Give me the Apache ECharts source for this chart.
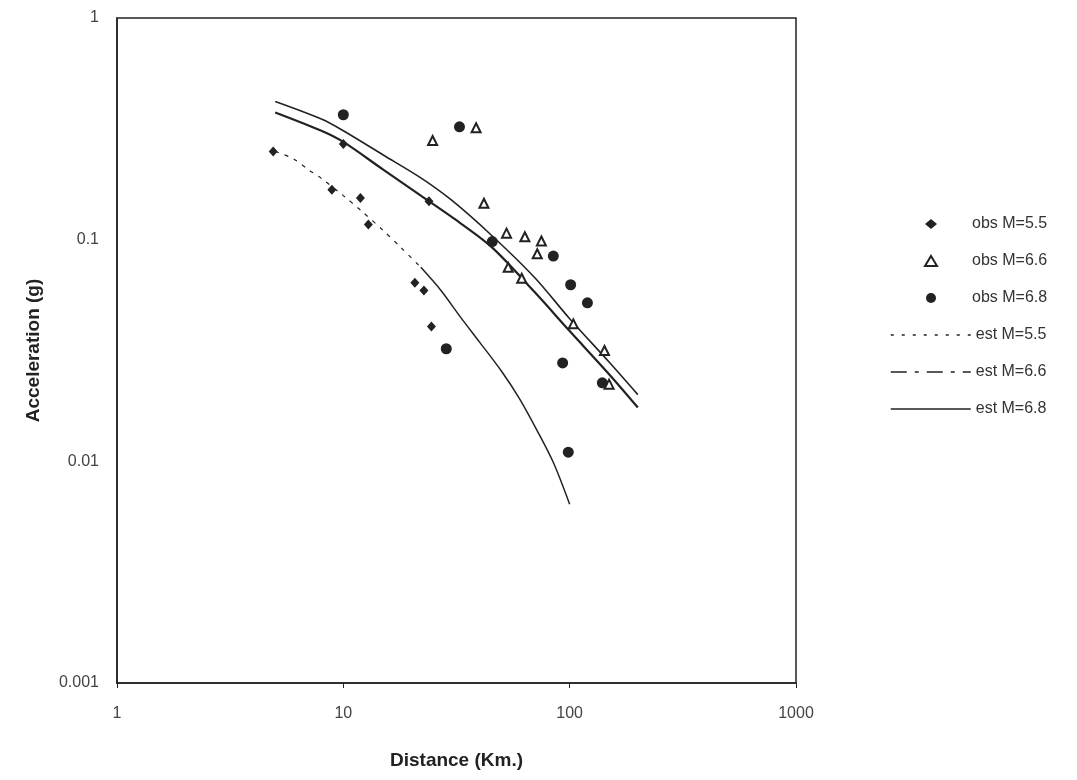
<!DOCTYPE html>
<html>
<head>
<meta charset="utf-8">
<script src="https://cdn.jsdelivr.net/npm/echarts@6/dist/echarts.min.js"></script>
<style>
  html, body { margin: 0; padding: 0; background: #fff; }
  #chart { width: 1077px; height: 780px; }
</style>
</head>
<body>
<div id="chart"></div>
<script>
// observed points [distance km, acceleration g]
const obsM55 = [[4.9, 0.25], [8.9, 0.168], [10, 0.27], [11.9, 0.154], [12.9, 0.117],
  [20.7, 0.064], [22.7, 0.059], [23.9, 0.149], [24.5, 0.0406]];
const obsM66 = [[24.8, 0.28], [38.6, 0.32], [41.8, 0.146], [52.6, 0.107], [53.5, 0.075],
  [61.4, 0.067], [63.4, 0.103], [71.9, 0.0864], [75, 0.0986], [103.8, 0.0417],
  [142.5, 0.0316], [149.3, 0.0223]];
const obsM68 = [[10, 0.366], [28.5, 0.0322], [32.6, 0.323], [45.5, 0.098], [84.7, 0.0843],
  [93.1, 0.0278], [98.6, 0.011], [101, 0.0626], [119.8, 0.0519], [139.4, 0.0226]];

// estimated curves
const est55X = [5, 6, 7, 8, 10, 12, 15, 18, 22, 27, 33, 40, 50, 60, 72, 85, 100];
const est55Y = [0.25, 0.232, 0.207, 0.189, 0.158, 0.135, 0.11, 0.092, 0.075, 0.059, 0.0446,
  0.0345, 0.0255, 0.0192, 0.0137, 0.0098, 0.0064];
const est55Split = 8; // index where the scanned dotted line turns solid

const estX = [5, 8, 10, 15, 22, 30, 45, 70, 100, 150, 200];
const est66Y = [0.375, 0.31, 0.276, 0.207, 0.158, 0.127, 0.093, 0.058, 0.0387, 0.0246, 0.0175];
const est68Y = [0.42, 0.35, 0.31, 0.241, 0.19, 0.151, 0.105, 0.0675, 0.044, 0.0279, 0.02];

const xTicks = [1, 10, 100, 1000];
const yTicks = ['0.001', '0.01', '0.1', '1'];

const zip = (xs, ys) => xs.map((x, i) => [x, ys[i]]);
const est55 = zip(est55X, est55Y);

const ink = '#222';
const font = 'Liberation Sans, Arial, sans-serif';
const legendText = { fontSize: 16, color: '#333', fontFamily: font, lineHeight: 20 };
const noDot = { opacity: 0 };

const chart = echarts.init(document.getElementById('chart'));
chart.setOption({
  backgroundColor: '#fff',
  animation: false,
  grid: { left: 117, right: 281, top: 18, bottom: 97, show: true, borderColor: ink, borderWidth: 1.5 },
  legend: [
    {
      // observed markers
      orient: 'vertical',
      left: 919,
      top: 209,
      itemWidth: 12,
      itemHeight: 10,
      itemGap: 17,
      textStyle: Object.assign({ padding: [0, 0, 0, 30] }, legendText),
      data: ['obs M=5.5', 'obs M=6.6', 'obs M=6.8']
    },
    {
      // estimated lines
      orient: 'vertical',
      left: 885,
      top: 320,
      itemWidth: 80,
      itemHeight: 10,
      itemGap: 17,
      textStyle: legendText,
      data: [
        { name: 'est M=5.5', itemStyle: noDot, lineStyle: { type: [3, 8], width: 1.5, color: ink } },
        { name: 'est M=6.6', itemStyle: noDot, lineStyle: { type: [16, 8, 4, 8], width: 1.5, color: ink } },
        { name: 'est M=6.8', itemStyle: noDot, lineStyle: { type: 'solid', width: 1.5, color: ink } }
      ]
    }
  ],
  xAxis: {
    type: 'log',
    min: 1,
    max: 1000,
    logBase: 10,
    name: 'Distance (Km.)',
    nameLocation: 'middle',
    nameGap: 68,
    nameTextStyle: { fontSize: 19, fontWeight: 'bold', color: ink, fontFamily: font },
    axisLine: { lineStyle: { color: ink, width: 1.5 } },
    axisTick: { show: true, length: 5, lineStyle: { color: ink } },
    minorTick: { show: false },
    splitLine: { show: false },
    axisLabel: {
      margin: 23, fontSize: 16, color: '#444', fontFamily: font,
      formatter: v => xTicks.indexOf(Math.round(v)) >= 0 ? String(Math.round(v)) : ''
    }
  },
  yAxis: {
    type: 'log',
    min: 0.001,
    max: 1,
    logBase: 10,
    name: 'Acceleration (g)',
    nameLocation: 'middle',
    nameGap: 74,
    nameTextStyle: { fontSize: 19, fontWeight: 'bold', color: ink, fontFamily: font },
    axisLine: { lineStyle: { color: ink, width: 1.5 } },
    axisTick: { show: false },
    splitLine: { show: false },
    axisLabel: {
      margin: 18, fontSize: 16, color: '#444', fontFamily: font,
      formatter: v => {
        const s = yTicks.find(t => Math.abs(parseFloat(t) - v) < v * 1e-6);
        return s || '';
      }
    }
  },
  series: [
    {
      name: 'est M=5.5', type: 'line', symbol: 'none', z: 2, color: ink, smooth: 0.3,
      data: est55.slice(0, est55Split + 1),
      lineStyle: { color: ink, width: 1.2, type: [4, 6] }
    },
    {
      name: 'est M=5.5', type: 'line', symbol: 'none', z: 2, color: ink, smooth: 0.3,
      data: est55.slice(est55Split),
      lineStyle: { color: ink, width: 1.5 }
    },
    {
      name: 'est M=6.6', type: 'line', symbol: 'none', z: 2, color: ink, smooth: 0.3,
      data: zip(estX, est66Y),
      lineStyle: { color: ink, width: 2.2 }
    },
    {
      name: 'est M=6.8', type: 'line', symbol: 'none', z: 2, color: ink, smooth: 0.3,
      data: zip(estX, est68Y),
      lineStyle: { color: ink, width: 1.6 }
    },
    {
      name: 'obs M=5.5', type: 'scatter', symbol: 'diamond', symbolSize: [9, 10], z: 3,
      data: obsM55, itemStyle: { color: ink, opacity: 1 }
    },
    {
      name: 'obs M=6.6', type: 'scatter', symbol: 'triangle', symbolSize: 9, z: 3,
      data: obsM66, itemStyle: { color: '#fff', borderColor: ink, borderWidth: 2, opacity: 1 }
    },
    {
      name: 'obs M=6.8', type: 'scatter', symbol: 'circle', symbolSize: 11, z: 3,
      data: obsM68, itemStyle: { color: ink, opacity: 1 }
    }
  ]
});
</script>
</body>
</html>
